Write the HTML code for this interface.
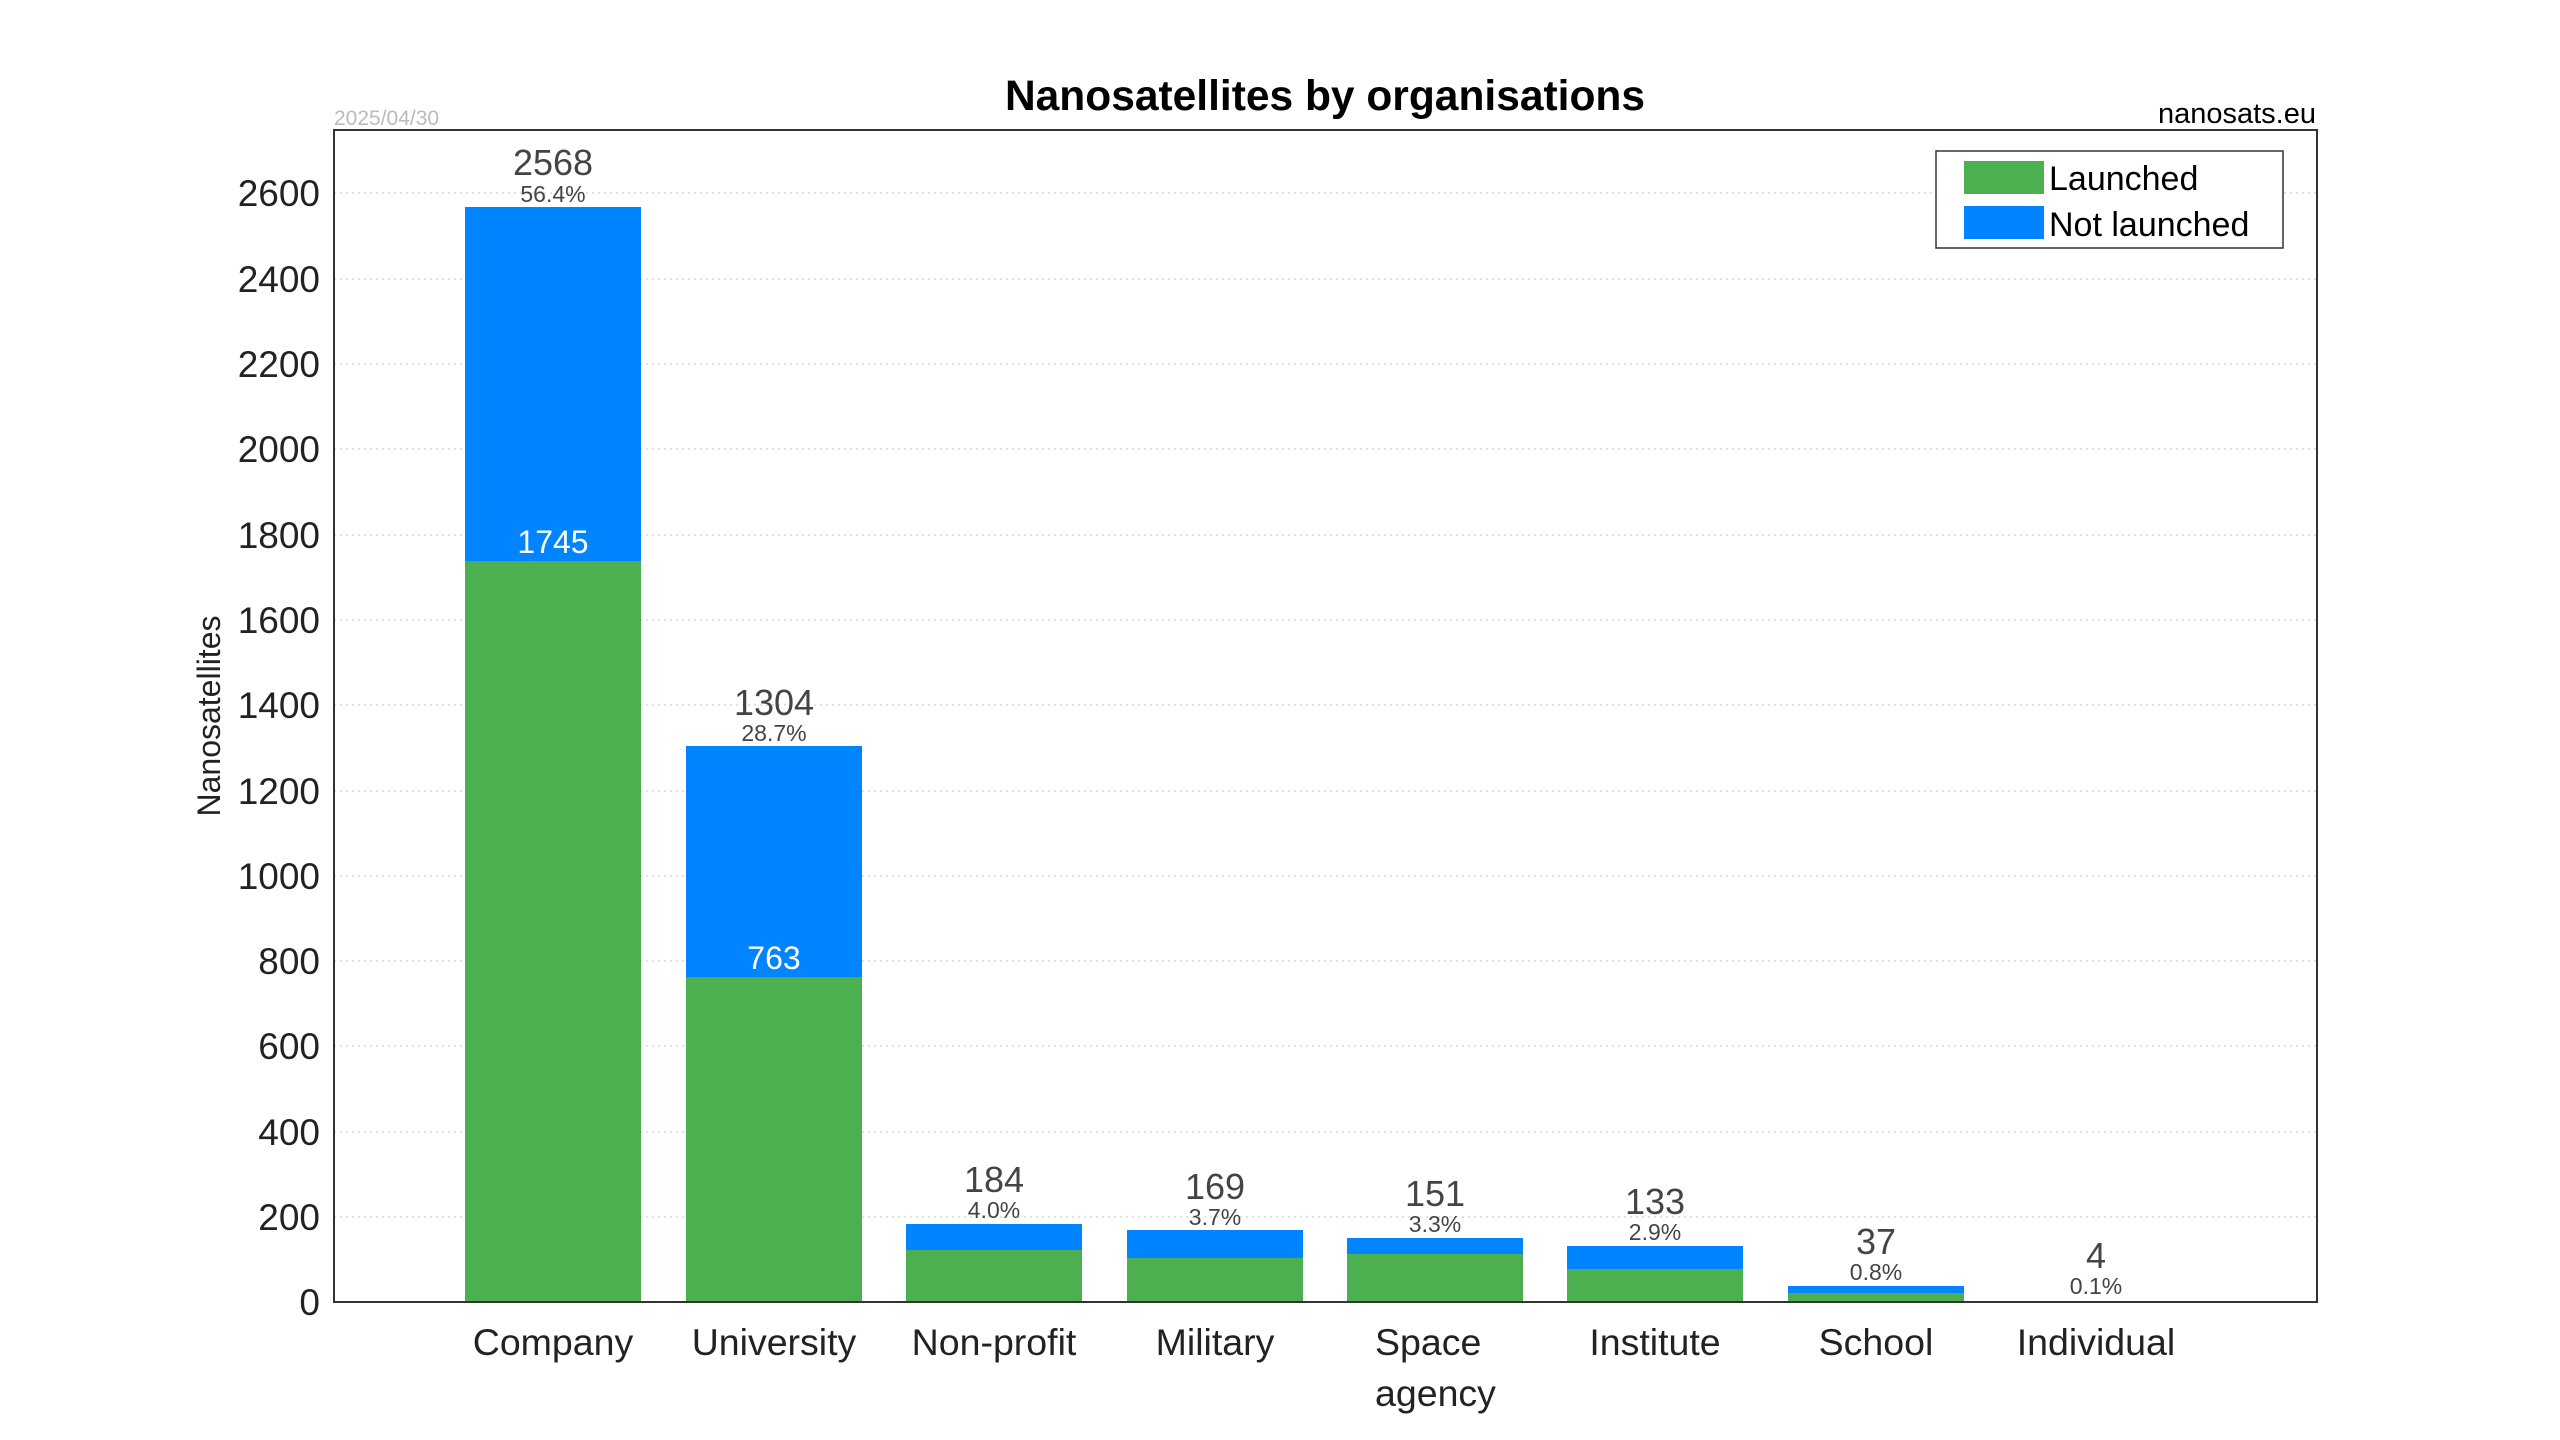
<!DOCTYPE html>
<html><head><meta charset="utf-8"><style>
html,body{margin:0;padding:0;background:#fff;}
svg{display:block;font-family:"Liberation Sans",sans-serif;}
</style></head><body>
<svg width="2560" height="1440" viewBox="0 0 2560 1440" xmlns="http://www.w3.org/2000/svg">
<rect width="2560" height="1440" fill="#fff"/>
<g stroke="#d8d8d8" stroke-width="1.5" stroke-dasharray="2,4">
<line x1="334" x2="2317" y1="1217" y2="1217"/>
<line x1="334" x2="2317" y1="1132" y2="1132"/>
<line x1="334" x2="2317" y1="1046" y2="1046"/>
<line x1="334" x2="2317" y1="961" y2="961"/>
<line x1="334" x2="2317" y1="876" y2="876"/>
<line x1="334" x2="2317" y1="791" y2="791"/>
<line x1="334" x2="2317" y1="705" y2="705"/>
<line x1="334" x2="2317" y1="620" y2="620"/>
<line x1="334" x2="2317" y1="535" y2="535"/>
<line x1="334" x2="2317" y1="449" y2="449"/>
<line x1="334" x2="2317" y1="364" y2="364"/>
<line x1="334" x2="2317" y1="279" y2="279"/>
<line x1="334" x2="2317" y1="193" y2="193"/>
</g>
<g fill="#222" font-size="37" text-anchor="end">
<text x="320" y="1315">0</text><text x="320" y="1230">200</text><text x="320" y="1145">400</text>
<text x="320" y="1059">600</text><text x="320" y="974">800</text><text x="320" y="889">1000</text>
<text x="320" y="804">1200</text><text x="320" y="718">1400</text><text x="320" y="633">1600</text>
<text x="320" y="548">1800</text><text x="320" y="462">2000</text><text x="320" y="377">2200</text>
<text x="320" y="292">2400</text><text x="320" y="206">2600</text>
</g>
<g>
<rect x="465" y="207" width="176" height="1095" fill="#0084ff"/><rect x="465" y="561" width="176" height="741" fill="#4caf50"/>
<rect x="686" y="746" width="176" height="556" fill="#0084ff"/><rect x="686" y="977" width="176" height="325" fill="#4caf50"/>
<rect x="906" y="1224" width="176" height="78" fill="#0084ff"/><rect x="906" y="1250" width="176" height="52" fill="#4caf50"/>
<rect x="1127" y="1230" width="176" height="72" fill="#0084ff"/><rect x="1127" y="1258" width="176" height="44" fill="#4caf50"/>
<rect x="1347" y="1238" width="176" height="64" fill="#0084ff"/><rect x="1347" y="1254" width="176" height="48" fill="#4caf50"/>
<rect x="1567" y="1246" width="176" height="56" fill="#0084ff"/><rect x="1567" y="1269" width="176" height="33" fill="#4caf50"/>
<rect x="1788" y="1286" width="176" height="16" fill="#0084ff"/><rect x="1788" y="1293" width="176" height="9" fill="#4caf50"/>
</g>
<g fill="#444" text-anchor="middle">
<g font-size="36">
<text x="553" y="175">2568</text><text x="774" y="715">1304</text><text x="994" y="1192">184</text>
<text x="1215" y="1199">169</text><text x="1435" y="1206">151</text><text x="1655" y="1214">133</text>
<text x="1876" y="1254">37</text><text x="2096" y="1268">4</text>
</g>
<g font-size="23">
<text x="553" y="202">56.4%</text><text x="774" y="741">28.7%</text><text x="994" y="1218">4.0%</text>
<text x="1215" y="1225">3.7%</text><text x="1435" y="1232">3.3%</text><text x="1655" y="1240">2.9%</text>
<text x="1876" y="1280">0.8%</text><text x="2096" y="1294">0.1%</text>
</g>
</g>
<g fill="#fff" font-size="32" text-anchor="middle">
<text x="553" y="553">1745</text><text x="774" y="969">763</text>
</g>
<rect x="334" y="130" width="1983" height="1172" fill="none" stroke="#333" stroke-width="2"/>
<g fill="#222" font-size="37.5" text-anchor="middle">
<text x="553" y="1355">Company</text><text x="774" y="1355">University</text><text x="994" y="1355">Non-profit</text>
<text x="1215" y="1355">Military</text><text x="1375" y="1355" text-anchor="start">Space</text><text x="1375" y="1406" text-anchor="start">agency</text>
<text x="1655" y="1355">Institute</text><text x="1876" y="1355">School</text><text x="2096" y="1355">Individual</text>
</g>
<text x="1325" y="110" font-size="42.5" font-weight="bold" text-anchor="middle" fill="#000">Nanosatellites by organisations</text>
<text x="2316" y="123" font-size="29" text-anchor="end" fill="#000">nanosats.eu</text>
<text x="334" y="125" font-size="21" fill="#bbb">2025/04/30</text>
<text transform="translate(220,716) rotate(-90)" font-size="32" text-anchor="middle" fill="#222">Nanosatellites</text>
<rect x="1936" y="151" width="347" height="97" fill="#fff" stroke="#333" stroke-width="1.5"/>
<rect x="1964" y="161" width="80" height="33" fill="#4caf50"/>
<rect x="1964" y="206" width="80" height="33" fill="#0084ff"/>
<g font-size="34" fill="#000">
<text x="2049" y="190">Launched</text><text x="2049" y="236">Not launched</text>
</g>
</svg>
</body></html>
